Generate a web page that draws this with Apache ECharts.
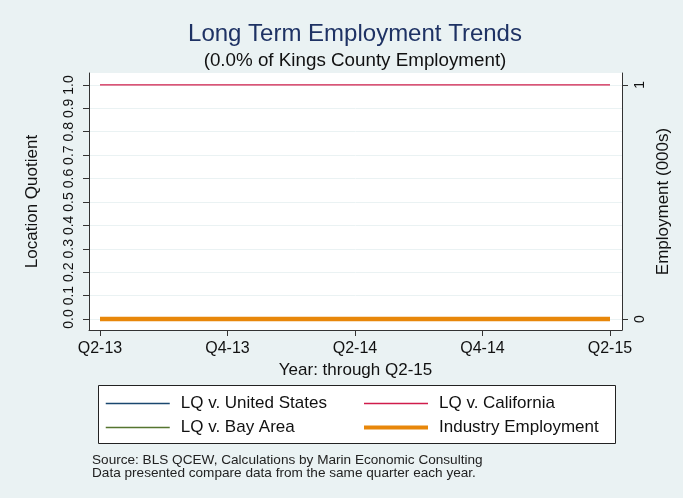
<!DOCTYPE html>
<html>
<head>
<meta charset="utf-8">
<script src="https://cdn.jsdelivr.net/npm/echarts@6/dist/echarts.min.js"></script>
<style>
  html, body { margin: 0; padding: 0; background: #eaf2f3; }
  #chart { width: 683px; height: 498px; }
</style>
</head>
<body>
<div id="chart"></div>
<script>
// quarters on the x axis, one per point
const quarters = ['Q2-13', 'Q3-13', 'Q4-13', 'Q1-14', 'Q2-14', 'Q3-14', 'Q4-14', 'Q1-15', 'Q2-15'];
const xTickIdx = [0, 2, 4, 6, 8];
const lqTicks = [0, 0.1, 0.2, 0.3, 0.4, 0.5, 0.6, 0.7, 0.8, 0.9, 1.0];
const empTicks = [0, 1];

// series values
const lqUS = [0, 0, 0, 0, 0, 0, 0, 0, 0];
const lqCA = [1, 1, 1, 1, 1, 1, 1, 1, 1];
const lqBay = [0, 0, 0, 0, 0, 0, 0, 0, 0];
const employment = [0, 0, 0, 0, 0, 0, 0, 0, 0];

const FONT = 'Liberation Sans, Arial, sans-serif';
const pairs = arr => arr.map((v, i) => [i, v]);

const chart = echarts.init(document.getElementById('chart'));

const legendBase = {
  orient: 'vertical',
  top: 395,
  padding: 0,
  itemWidth: 64, itemHeight: 14, itemGap: 7,
  itemStyle: { opacity: 0 },
  lineStyle: { width: 1.5 },
  textStyle: { fontFamily: FONT, fontSize: 17, color: '#111', padding: [0, 0, 0, 6] }
};

const option = {
  backgroundColor: '#eaf2f3',
  animation: false,
  textStyle: { fontFamily: FONT },
  title: [{
    text: 'Long Term Employment Trends',
    left: 350,
    textAlign: 'center',
    top: 17,
    textStyle: { fontFamily: FONT, fontSize: 24, fontWeight: 'normal', color: '#1e3264' }
  }, {
    text: '(0.0% of Kings County Employment)',
    left: 350,
    textAlign: 'center',
    top: 46,
    textStyle: { fontFamily: FONT, fontSize: 18.8, fontWeight: 'normal', color: '#111' }
  }, {
    text: 'Source: BLS QCEW, Calculations by Marin Economic Consulting\nData presented compare data from the same quarter each year.',
    left: 87,
    top: 448,
    textStyle: { fontFamily: FONT, fontSize: 13.6, lineHeight: 13.5, fontWeight: 'normal', color: '#222' }
  }],
  grid: {
    left: 89, right: 61, top: 73, bottom: 168,
    show: true, backgroundColor: '#fff', borderWidth: 0
  },
  graphic: [{
    type: 'rect',
    shape: { x: 98.5, y: 385.5, width: 517, height: 58 },
    style: { fill: '#fff', stroke: '#222', lineWidth: 1 },
    z: 0
  }],
  legend: [Object.assign({}, legendBase, {
    data: ['LQ v. United States', 'LQ v. Bay Area'],
    left: 105
  }), Object.assign({}, legendBase, {
    data: ['LQ v. California', { name: 'Industry Employment', lineStyle: { width: 4 } }],
    left: 362
  })],
  xAxis: {
    type: 'value',
    min: -0.1725,
    max: 8.188,
    name: 'Year: through Q2-15',
    nameLocation: 'middle',
    nameGap: 29,
    nameTextStyle: { fontFamily: FONT, fontSize: 17, color: '#111' },
    axisLine: { show: true, onZero: false, lineStyle: { color: '#333', width: 1 } },
    axisTick: { show: true, length: 6, customValues: xTickIdx, lineStyle: { color: '#333' } },
    axisLabel: {
      customValues: xTickIdx,
      margin: 11,
      fontFamily: FONT, fontSize: 16, color: '#111',
      formatter: v => quarters[Math.round(v)]
    },
    splitLine: { show: false }
  },
  yAxis: [{
    type: 'value',
    min: -0.047,
    max: 1.051,
    name: 'Location Quotient',
    nameLocation: 'middle',
    nameRotate: 90,
    nameGap: 48,
    nameTextStyle: { fontFamily: FONT, fontSize: 17, color: '#111' },
    axisLine: { show: true, onZero: false, lineStyle: { color: '#333', width: 1 } },
    axisTick: { show: true, length: 6, customValues: lqTicks, lineStyle: { color: '#333' } },
    axisLabel: {
      customValues: lqTicks,
      rotate: 90,
      margin: 13,
      fontFamily: FONT, fontSize: 14, color: '#111',
      formatter: v => v.toFixed(1)
    },
    splitLine: { show: true, lineStyle: { color: '#eaf2f3', width: 1 } }
  }, {
    type: 'value',
    position: 'right',
    min: -0.047,
    max: 1.051,
    name: 'Employment (000s)',
    nameLocation: 'middle',
    nameRotate: 90,
    nameGap: 30,
    nameTextStyle: { fontFamily: FONT, fontSize: 17, color: '#111' },
    axisLine: { show: true, onZero: false, lineStyle: { color: '#333', width: 1 } },
    axisTick: { show: true, length: 6, customValues: empTicks, lineStyle: { color: '#333' } },
    axisLabel: {
      customValues: empTicks,
      rotate: 90,
      margin: 11,
      fontFamily: FONT, fontSize: 14, color: '#111',
      formatter: v => String(v)
    },
    splitLine: { show: false }
  }],
  series: [{
    name: 'LQ v. United States',
    type: 'line',
    data: pairs(lqUS),
    symbol: 'none',
    color: '#1a476f',
    lineStyle: { color: '#1a476f', width: 1.3 }
  }, {
    name: 'LQ v. California',
    type: 'line',
    data: pairs(lqCA),
    symbol: 'none',
    color: '#d01c4b',
    lineStyle: { color: '#d01c4b', width: 1.3 }
  }, {
    name: 'LQ v. Bay Area',
    type: 'line',
    data: pairs(lqBay),
    symbol: 'none',
    color: '#55752f',
    lineStyle: { color: '#55752f', width: 1.3 }
  }, {
    name: 'Industry Employment',
    type: 'line',
    yAxisIndex: 1,
    data: pairs(employment),
    symbol: 'none',
    color: '#e8870a',
    lineStyle: { color: '#e8870a', width: 4.5 }
  }]
};

chart.setOption(option);
</script>
</body>
</html>
